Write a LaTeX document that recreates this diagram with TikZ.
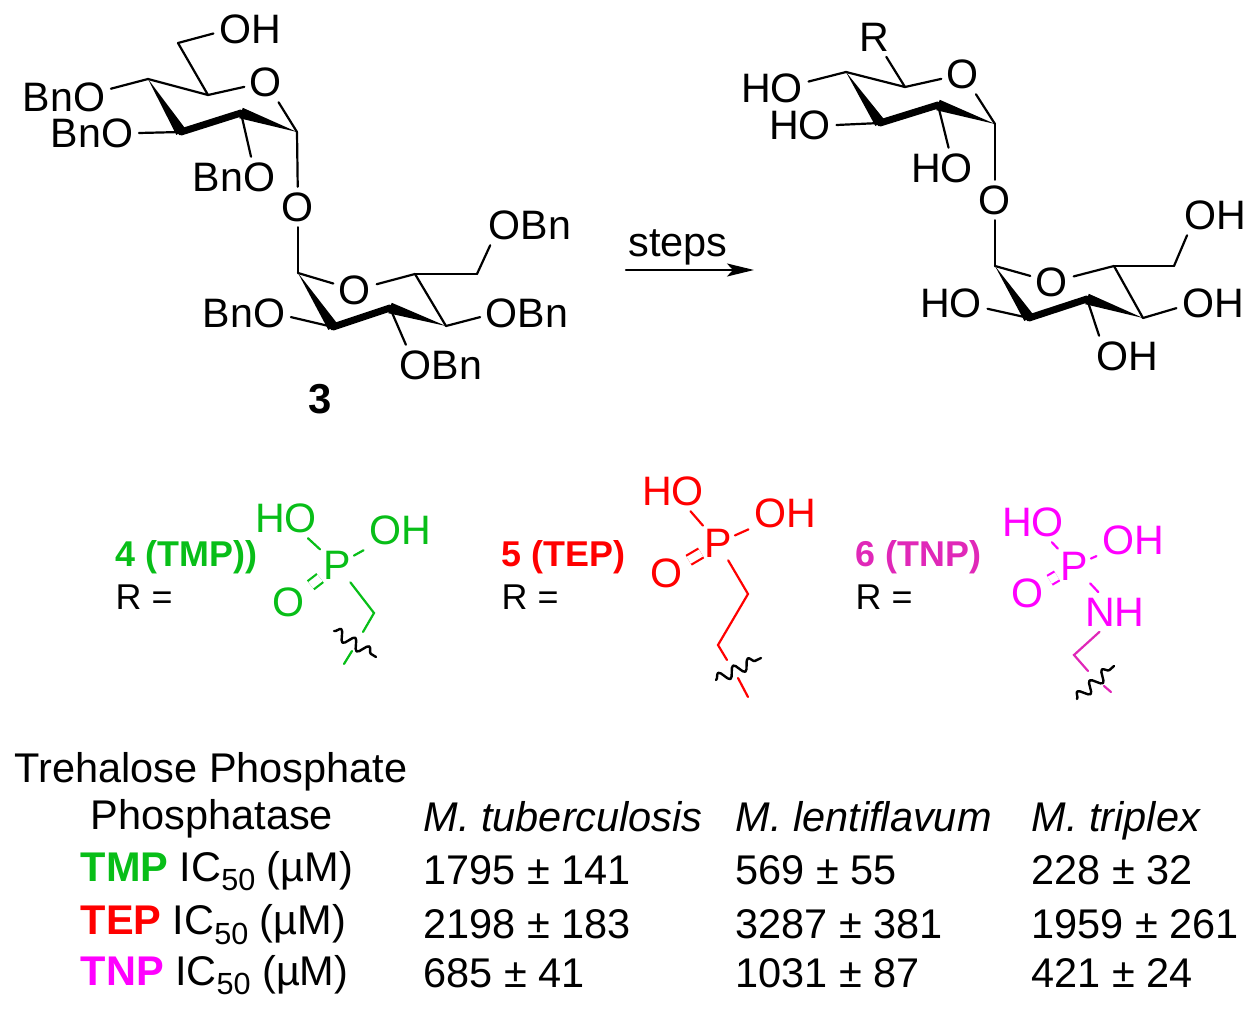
\documentclass[tikz,border=0pt]{standalone}
\usepackage{fontspec}
\setmainfont{Liberation Sans}
\usetikzlibrary{calc,arrows.meta,decorations.pathmorphing}
\definecolor{tmpgreen}{RGB}{8,190,24}
\definecolor{tepred}{RGB}{255,0,0}
\definecolor{tnpmagenta}{RGB}{255,0,255}
\definecolor{tnpdull}{RGB}{224,40,184}
\newcommand{\subfifty}{\raisebox{-0.22em}{\fontsize{8.7pt}{10pt}\selectfont 50}}

\begin{document}
\begin{tikzpicture}[x=0.01cm, y=-0.01cm,
	atom/.style={font=\fontsize{11.7pt}{13pt}\selectfont, inner sep=0.05cm},
	phos/.style={atom, inner sep=0.025cm},
	tag/.style={font=\fontsize{10.2pt}{12pt}\selectfont, anchor=base west, inner sep=0pt},
	boldtag/.style={font=\fontsize{10.2pt}{12pt}\selectfont\bfseries, anchor=base west, inner sep=0pt},
	cell/.style={font=\fontsize{11.8pt}{14pt}\selectfont, anchor=base west, inner sep=0pt},
	bond/.style={line width=0.022cm, line cap=round},
	dbl bond/.style={double, double distance=0.08cm, line width=0.022cm},
	fat bond/.style={line width=0.07cm, line cap=round},
	squiggle/.style={line width=0.024cm, line cap=round, line join=round, decorate, decoration={snake, segment length=0.165cm, amplitude=0.055cm}}]
	\useasboundingbox (0,0) rectangle (1256,1009);

	% ring carbons
	\foreach \n/\x/\y in {c1a/297/132, c2a/241/113, c3a/181/132, c4a/148/79, c5a/208/95, c6a/178/43,
		c1b/298/273, c2b/333/327, c3b/390/308, c4b/446/326, c5b/415/274, c6b/477/274,
		c1c/995/124, c2c/938/105, c3c/880/123, c4c/846/72, c5c/905/87,
		c1d/995/266, c2d/1029/318, c3d/1087/299, c4d/1143/318, c5d/1114/266, c6d/1174/266}{
		\coordinate (\n) at (\x,\y);
	}

	% protected sugar
	\node[atom] (oha) at (250,29) {OH};
	\node[atom] (oa) at (266,82) {O};
	\node[atom] (bnoa) at (64,97) {BnO};
	\node[atom] (bnob) at (92,133) {BnO};
	\node[atom] (bnoc) at (234,177) {BnO};
	\node[atom] (ox) at (298,207) {O};
	\node[atom] (ob) at (355,290) {O};
	\node[atom] (obna) at (530,225) {OBn};
	\node[atom] (bnod) at (244,313) {BnO};
	\node[atom] (obnb) at (527,313) {OBn};
	\node[atom] (obnc) at (441,365) {OBn};
	\node[font=\fontsize{11.9pt}{14pt}\selectfont\bfseries, inner sep=1pt] (three) at (320,399) {3};

	% free sugar
	\node[atom] (r) at (874,37) {R};
	\node[atom] (oc) at (963,74) {O};
	\node[atom] (hoa) at (772,88) {HO};
	\node[atom] (hob) at (800,125) {HO};
	\node[atom] (hoc) at (942,168) {HO};
	\node[atom] (oy) at (995,200) {O};
	\node[atom] (od) at (1052,282) {O};
	\node[atom] (ohb) at (1215,215) {OH};
	\node[atom] (hod) at (951,303) {HO};
	\node[atom] (ohc) at (1213,303) {OH};
	\node[atom] (ohd) at (1127,356) {OH};

	\foreach \a/\b in {c6a/oha.187, c5a/c6a, c5a/oa, c5a/c4a, oa/c1a, c4a/bnoa.10, c3a/bnob.east, c2a/bnoc.50,
		c1a/ox, ox/c1b, c1b/ob, ob/c5b, c5b/c6b, c6b/obna.207, c5b/c4b, c2b/bnod.-5, c4b/obnb.185, c3b/obnc.150,
		c5c/r, c5c/oc, c5c/c4c, oc/c1c, c4c/hoa.10, c3c/hob.east, c2c/hoc.72,
		c1c/oy, oy/c1d, c1d/od, od/c5d, c5d/c6d, c6d/ohb.216, c5d/c4d, c2d/hod.-9, c4d/ohc.188, c3d/ohd.144}{
		\draw[bond] (\a) -- (\b);
	}
	\foreach \a/\b in {c3a/c2a, c2b/c3b, c3c/c2c, c2d/c3d}{
		\draw[fat bond] (\a) -- (\b);
	}
	\foreach \a/\b in {c4a/c3a, c1a/c2a, c1b/c2b, c4b/c3b, c4c/c3c, c1c/c2c, c1d/c2d, c4d/c3d}{
		\fill (\a) -- ($(\b)!0.055cm!90:(\a)$) -- ($(\b)!0.055cm!-90:(\a)$) -- cycle;
	}

	% reaction arrow
	\coordinate (arrowl) at (626,270);
	\coordinate (arrowr) at (754,270);
	\node[cell, anchor=base] (steps) at (678,257) {steps};
	\draw[bond, -{Stealth[length=0.27cm, width=0.13cm, inset=0.06cm]}] (arrowl) -- (arrowr);

	% R = TMP
	\node[boldtag, tmpgreen] (namef) at (115,567) {4 (TMP))};
	\node[tag] (rf) at (115,610) {R =};
	\begin{scope}[tmpgreen]
		\node[atom] (hof) at (286,518) {HO};
		\node[atom] (ohf) at (400,530) {OH};
		\node[phos] (pf) at (337,565) {P};
		\node[atom] (of) at (289,602) {O};
		\coordinate (cf) at (374,613);
		\coordinate (sfa) at (363,632);
		\coordinate (sfb) at (352,651);
		\coordinate (sfc) at (344,664);
		\draw[bond] (hof) -- (pf);
		\draw[bond] (ohf) -- (pf);
		\draw[dbl bond] (pf) -- (of);
		\draw[bond] (pf) -- (cf) -- (sfa);
		\draw[bond] (sfb) -- (sfc);
	\end{scope}
	\coordinate (wfa) at (334,631);
	\coordinate (wfb) at (376,657);
	\draw[squiggle] (wfa) -- (wfb);

	% R = TEP
	\node[boldtag, tepred] (nameg) at (501,567) {5 (TEP)};
	\node[tag] (rg) at (501,610) {R =};
	\begin{scope}[tepred]
		\node[atom] (hog) at (673,491) {HO};
		\node[atom] (ohg) at (785,513) {OH};
		\node[phos] (pg) at (718,543) {P};
		\node[atom] (og) at (667,573) {O};
		\coordinate (cga) at (748,594);
		\coordinate (cgb) at (718,645);
		\coordinate (sga) at (727,660);
		\coordinate (sgb) at (738,678);
		\coordinate (sgc) at (748,697);
		\draw[bond] (hog) -- (pg);
		\draw[bond] (ohg) -- (pg);
		\draw[dbl bond] (pg) -- (og);
		\draw[bond] (pg) -- (cga) -- (cgb) -- (sga);
		\draw[bond] (sgb) -- (sgc);
	\end{scope}
	\coordinate (wga) at (716,680);
	\coordinate (wgb) at (761,658);
	\draw[squiggle] (wga) -- (wgb);

	% R = TNP
	\node[boldtag, tnpdull] (nameh) at (855,567) {6 (TNP)};
	\node[tag] (rh) at (855,610) {R =};
	\begin{scope}[tnpmagenta]
		\node[atom] (hoh) at (1033,522) {HO};
		\node[atom] (ohh) at (1133,540) {OH};
		\node[phos] (ph) at (1074,566) {P};
		\node[atom] (oh) at (1028,593) {O};
		\node[atom] (nhh) at (1115,612) {NH};
		\draw[bond] (hoh) -- (ph);
		\draw[bond] (ohh) -- (ph);
		\draw[dbl bond] (ph) -- (oh);
		\draw[bond] (ph) -- (nhh.130);
	\end{scope}
	\coordinate (ch) at (1074,655);
	\coordinate (sha) at (1088,671);
	\coordinate (shb) at (1104,686);
	\coordinate (shc) at (1111,692);
	\draw[bond, tnpdull] (nhh.-128) -- (ch) -- (sha);
	\draw[bond, tnpdull] (shb) -- (shc);
	\coordinate (wha) at (1077,699);
	\coordinate (whb) at (1114,666);
	\draw[squiggle] (wha) -- (whb);

	% table
	\node[cell] (heada) at (14,782) {Trehalose Phosphate};
	\node[cell] (headb) at (90,830) {Phosphatase};
	\node[cell] (tmprow) at (80,881) {\textcolor{tmpgreen}{\textbf{TMP}} IC\subfifty{} (µM)};
	\node[cell] (teprow) at (80,935) {\textcolor{tepred}{\textbf{TEP}} IC\subfifty{} (µM)};
	\node[cell] (tnprow) at (80,985) {\textcolor{tnpmagenta}{\textbf{TNP}} IC\subfifty{} (µM)};
	\foreach \x/\name/\first/\second/\third in {
		423/M. tuberculosis/1795 ± 141/2198 ± 183/685 ± 41,
		735/M. lentiflavum/569 ± 55/3287 ± 381/1031 ± 87,
		1031/M. triplex/228 ± 32/1959 ± 261/421 ± 24}{
		\node[cell] at (\x,831) {\itshape\name};
		\node[cell] at (\x,885) {\first};
		\node[cell] at (\x,939) {\second};
		\node[cell] at (\x,988) {\third};
	}
\end{tikzpicture}
\end{document}
